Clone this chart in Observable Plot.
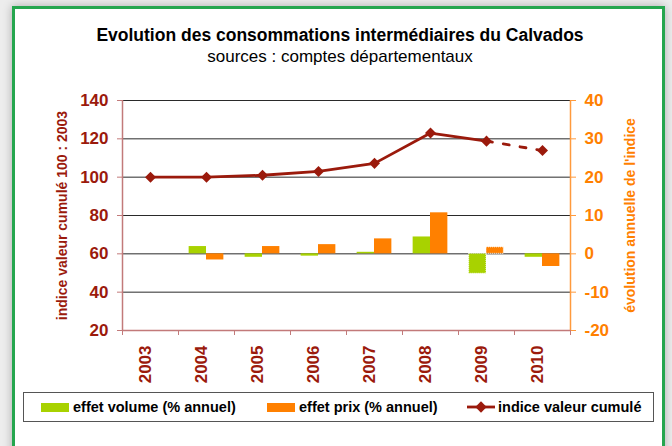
<!DOCTYPE html>
<html><head><meta charset="utf-8">
<script src="https://cdn.jsdelivr.net/npm/d3@7"></script>
<script src="https://cdn.jsdelivr.net/npm/@observablehq/plot@0.6"></script>
<style>
html,body{margin:0;padding:0}
body{background:#ededed;font-family:"Liberation Sans",Arial,sans-serif;width:672px;height:446px;overflow:hidden;position:relative}
#frame{position:absolute;left:12px;top:6px;width:647px;height:470px;background:#fff;border:3px solid #25a64e;box-shadow:0 0 9px rgba(0,0,0,.28)}
.t{position:absolute;left:0;width:680px;text-align:center;color:#000;white-space:nowrap}
#title{top:26px;font-weight:bold;font-size:17.5px;line-height:19px}
#subtitle{top:47px;font-size:17px;line-height:19px}
#chart{position:absolute;left:0;top:80px}
#legend{position:absolute;left:23px;top:392px;width:629px;height:28px;border:1.5px solid #555;background:#fff}
.item{position:absolute;top:0;height:28px;display:flex;align-items:center;font-weight:bold;font-size:14.5px;color:#000;white-space:nowrap}
.sw{display:inline-block;width:28px;height:9px;margin-right:4px}
</style></head>
<body>
<div id="frame"></div>
<div id="title" class="t"></div>
<div id="subtitle" class="t"></div>
<div id="chart"></div>
<div id="legend"></div>
<script>
const titleText = "Evolution des consommations intermédiaires du Calvados";
const subtitleText = "sources : comptes départementaux";
const years = [2003, 2004, 2005, 2006, 2007, 2008, 2009, 2010];
const effetVolume = [null, 1.9, -0.9, -0.6, 0.4, 4.4, -5.2, -0.9];
const effetPrix = [null, -1.6, 1.9, 2.4, 3.9, 10.7, 1.7, -3.3];
const indiceCumule = [100, 100, 101, 103, 107.2, 123, 118.8, 113.9];
const leftTicks = [20, 40, 60, 80, 100, 120, 140];
const rightTicks = [-20, -10, 0, 10, 20, 30, 40];
const seriesNames = ["effet volume (% annuel)", "effet prix (% annuel)", "indice valeur cumulé"];
const leftTitle = "indice valeur cumulé 100 : 2003";
const rightTitle = "évolution annuelle de l'indice";

const RED = "#9b1a0c", ORANGE = "#ff8000", GREEN = "#a8d200", AXIS = "#c27a7a", ORANGE_AXIS = "#ff9a3c";

document.getElementById("title").textContent = titleText;
document.getElementById("subtitle").textContent = subtitleText;

// right axis (-20..40) mapped onto left scale (20..140)
const toLeft = v => 60 + 2 * v;
const fromLeft = v => (v - 60) / 2;

const bars = [];
years.forEach((y, i) => {
  if (effetVolume[i] != null) bars.push({year: y, s: 0, v: effetVolume[i]});
  if (effetPrix[i] != null) bars.push({year: y, s: 1, v: effetPrix[i]});
});
const W = 0.31;
const line = years.map((y, i) => ({year: y, v: indiceCumule[i]}));
const solid = line.filter(d => d.year <= 2009);
const dashed = line.filter(d => d.year >= 2009);
const bounds = d3.range(years.length + 1).map(i => years[0] - 0.5 + i);

const barOpts = {
  x1: d => d.year + (d.s === 0 ? -W : 0),
  x2: d => d.year + (d.s === 0 ? 0 : W),
  y1: () => toLeft(0),
  y2: d => toLeft(d.v),
  fill: d => d.s === 0 ? GREEN : ORANGE
};

const plot = Plot.plot({
  width: 672, height: 310,
  marginLeft: 122, marginRight: 102, marginTop: 20, marginBottom: 60,
  x: {domain: [bounds[0], bounds[bounds.length - 1]]},
  y: {domain: [20, 140]},
  color: {type: "identity"},
  style: {fontFamily: "'Liberation Sans', Arial, sans-serif", background: "transparent", overflow: "visible"},
  marks: [
    Plot.gridY(leftTicks.slice(1), {stroke: "#2a2a2a", strokeOpacity: 1, strokeWidth: 1}),
    Plot.rect(bars, barOpts),
    Plot.rect(bars.filter(d => d.year === 2009), {...barOpts, fill: null, stroke: "white", strokeWidth: 1, strokeDasharray: "1 1"}),
    Plot.ruleY([20], {stroke: AXIS, strokeWidth: 1.5}),
    Plot.ruleX([bounds[0]], {stroke: AXIS, strokeWidth: 1.5}),
    Plot.ruleX([bounds[bounds.length - 1]], {stroke: ORANGE_AXIS, strokeWidth: 1.5}),
    // left axis
    Plot.axisY(leftTicks, {anchor: "left", tickSize: 5, tickFormat: () => "", stroke: AXIS, color: AXIS, label: null}),
    Plot.axisY(leftTicks, {anchor: "left", tickSize: 0, tickPadding: 14, fill: RED, color: RED, fontSize: 17, fontWeight: "bold", label: null}),
    // right axis
    Plot.axisY(rightTicks.map(toLeft), {anchor: "right", tickSize: 5, tickFormat: () => "", color: ORANGE_AXIS, label: null}),
    Plot.axisY(rightTicks.map(toLeft), {anchor: "right", tickSize: 0, tickPadding: 14, tickFormat: d => String(fromLeft(d)), color: ORANGE, fill: ORANGE, fontSize: 17, fontWeight: "bold", label: null}),
    // x axis
    Plot.axisX(bounds, {anchor: "bottom", tickSize: 5, tickFormat: () => "", color: AXIS, label: null}),
    Plot.text(years, {x: d => d, text: d => String(d), frameAnchor: "bottom", dy: 15, rotate: -90, textAnchor: "end", fontSize: 17, fontWeight: "bold", fill: RED}),
    // axis titles
    Plot.text([leftTitle], {text: d => d, frameAnchor: "left", dx: -60, rotate: -90, textAnchor: "middle", fontSize: 14, fontWeight: "bold", fill: RED}),
    Plot.text([rightTitle], {text: d => d, frameAnchor: "right", dx: 60, rotate: -90, textAnchor: "middle", fontSize: 14, fontWeight: "bold", fill: ORANGE}),
    // line
    Plot.line(solid, {x: "year", y: "v", stroke: RED, strokeWidth: 2.8}),
    Plot.line(dashed, {x: "year", y: "v", stroke: RED, strokeWidth: 2.8, strokeDasharray: "6 11"}),
    Plot.dot(line, {x: "year", y: "v", symbol: "square", r: 4.4, rotate: 45, fill: RED, stroke: null})
  ]
});
document.getElementById("chart").appendChild(plot);

// legend
const lg = document.getElementById("legend");
const pos = [17, 243, 443];
const sw = [
  `<span class="sw" style="background:${GREEN}"></span>`,
  `<span class="sw" style="background:${ORANGE}"></span>`,
  `<svg width="28" height="12" style="margin-right:3px"><line x1="0" y1="6" x2="28" y2="6" stroke="${RED}" stroke-width="2.8"/><rect x="10" y="2" width="8" height="8" fill="${RED}" transform="rotate(45 14 6)"/></svg>`
];
seriesNames.forEach((n, i) => {
  const d = document.createElement("div");
  d.className = "item";
  d.style.left = pos[i] + "px";
  d.innerHTML = sw[i] + "<span></span>";
  d.lastChild.textContent = n;
  lg.appendChild(d);
});
</script>
</body></html>
